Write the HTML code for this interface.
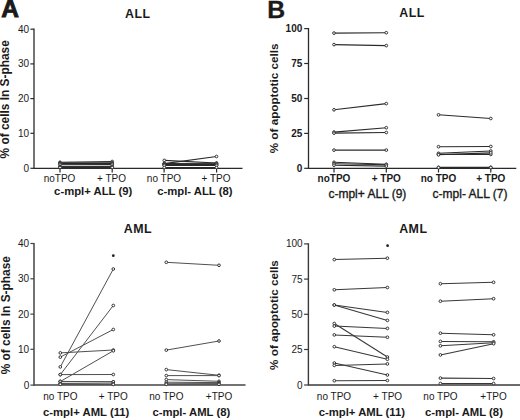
<!DOCTYPE html>
<html><head><meta charset="utf-8"><style>
html,body{margin:0;padding:0;background:#fff;}
body{width:520px;height:420px;overflow:hidden;}
svg{display:block;}
text{font-family:"Liberation Sans", sans-serif;fill:#1a1a1a;}
</style></head><body>
<svg width="520" height="420" viewBox="0 0 520 420">
<rect width="520" height="420" fill="#fff"/>
<line x1="34" y1="28.4" x2="34" y2="168.9" stroke="#2a2a2a" stroke-width="1.3"/>
<line x1="34" y1="168.3" x2="242.5" y2="168.3" stroke="#2a2a2a" stroke-width="1.3"/>
<line x1="30.4" y1="29.2" x2="34" y2="29.2" stroke="#2a2a2a" stroke-width="1.2"/>
<text x="29.1" y="32.7" font-size="10" font-weight="normal" text-anchor="end" >40</text>
<line x1="30.4" y1="63.9" x2="34" y2="63.9" stroke="#2a2a2a" stroke-width="1.2"/>
<text x="29.1" y="67.4" font-size="10" font-weight="normal" text-anchor="end" >30</text>
<line x1="30.4" y1="98.6" x2="34" y2="98.6" stroke="#2a2a2a" stroke-width="1.2"/>
<text x="29.1" y="102.1" font-size="10" font-weight="normal" text-anchor="end" >20</text>
<line x1="30.4" y1="133.3" x2="34" y2="133.3" stroke="#2a2a2a" stroke-width="1.2"/>
<text x="29.1" y="136.8" font-size="10" font-weight="normal" text-anchor="end" >10</text>
<line x1="30.4" y1="168.3" x2="34" y2="168.3" stroke="#2a2a2a" stroke-width="1.2"/>
<text x="29.1" y="171.8" font-size="10" font-weight="normal" text-anchor="end" >0</text>
<line x1="60" y1="168.3" x2="60" y2="172.5" stroke="#2a2a2a" stroke-width="1.2"/>
<line x1="112.2" y1="168.3" x2="112.2" y2="172.5" stroke="#2a2a2a" stroke-width="1.2"/>
<line x1="164.1" y1="168.3" x2="164.1" y2="172.5" stroke="#2a2a2a" stroke-width="1.2"/>
<line x1="216.6" y1="168.3" x2="216.6" y2="172.5" stroke="#2a2a2a" stroke-width="1.2"/>
<text x="59.5" y="182.4" font-size="10" font-weight="normal" text-anchor="middle" >noTPO</text>
<text x="111.5" y="182.4" font-size="10" font-weight="normal" text-anchor="middle" >+ TPO</text>
<text x="164" y="182.4" font-size="10" font-weight="normal" text-anchor="middle" >no TPO</text>
<text x="216" y="182.4" font-size="10" font-weight="normal" text-anchor="middle" >+ TPO</text>
<text x="93.2" y="195.2" font-size="11.3" font-weight="bold" text-anchor="middle" >c-mpl+ ALL (9)</text>
<text x="194.8" y="195.2" font-size="11.3" font-weight="bold" text-anchor="middle" >c-mpl- ALL (8)</text>
<line x1="60" y1="162.3" x2="112.2" y2="161.5" stroke="#2a2a2a" stroke-width="1.1"/>
<line x1="60" y1="163.0" x2="112.2" y2="162.8" stroke="#2a2a2a" stroke-width="1.1"/>
<line x1="60" y1="163.4" x2="112.2" y2="163.5" stroke="#2a2a2a" stroke-width="1.1"/>
<line x1="60" y1="163.9" x2="112.2" y2="164.0" stroke="#2a2a2a" stroke-width="1.1"/>
<line x1="60" y1="164.3" x2="112.2" y2="164.4" stroke="#2a2a2a" stroke-width="1.1"/>
<line x1="60" y1="166.2" x2="112.2" y2="166.2" stroke="#2a2a2a" stroke-width="1.1"/>
<line x1="60" y1="166.7" x2="112.2" y2="166.7" stroke="#2a2a2a" stroke-width="1.1"/>
<line x1="60" y1="167.2" x2="112.2" y2="167.2" stroke="#2a2a2a" stroke-width="1.1"/>
<line x1="60" y1="167.5" x2="112.2" y2="167.5" stroke="#2a2a2a" stroke-width="1.1"/>
<line x1="164.3" y1="160.4" x2="216.5" y2="163.0" stroke="#2a2a2a" stroke-width="1.1"/>
<line x1="164.3" y1="163.6" x2="216.5" y2="156.5" stroke="#2a2a2a" stroke-width="1.1"/>
<line x1="164.3" y1="163.5" x2="216.5" y2="163.3" stroke="#2a2a2a" stroke-width="1.1"/>
<line x1="164.3" y1="164.0" x2="216.5" y2="164.0" stroke="#2a2a2a" stroke-width="1.1"/>
<line x1="164.3" y1="164.5" x2="216.5" y2="164.6" stroke="#2a2a2a" stroke-width="1.1"/>
<line x1="164.3" y1="165.0" x2="216.5" y2="165.2" stroke="#2a2a2a" stroke-width="1.1"/>
<line x1="164.3" y1="165.5" x2="216.5" y2="165.5" stroke="#2a2a2a" stroke-width="1.1"/>
<line x1="164.3" y1="167.5" x2="216.5" y2="167.5" stroke="#2a2a2a" stroke-width="1.1"/>
<circle cx="60" cy="162.3" r="1.35" fill="#fff" stroke="#2a2a2a" stroke-width="0.95"/>
<circle cx="112.2" cy="161.5" r="1.35" fill="#fff" stroke="#2a2a2a" stroke-width="0.95"/>
<circle cx="60" cy="163.0" r="1.35" fill="#fff" stroke="#2a2a2a" stroke-width="0.95"/>
<circle cx="112.2" cy="162.8" r="1.35" fill="#fff" stroke="#2a2a2a" stroke-width="0.95"/>
<circle cx="60" cy="163.4" r="1.35" fill="#fff" stroke="#2a2a2a" stroke-width="0.95"/>
<circle cx="112.2" cy="163.5" r="1.35" fill="#fff" stroke="#2a2a2a" stroke-width="0.95"/>
<circle cx="60" cy="163.9" r="1.35" fill="#fff" stroke="#2a2a2a" stroke-width="0.95"/>
<circle cx="112.2" cy="164.0" r="1.35" fill="#fff" stroke="#2a2a2a" stroke-width="0.95"/>
<circle cx="60" cy="164.3" r="1.35" fill="#fff" stroke="#2a2a2a" stroke-width="0.95"/>
<circle cx="112.2" cy="164.4" r="1.35" fill="#fff" stroke="#2a2a2a" stroke-width="0.95"/>
<circle cx="60" cy="166.2" r="1.35" fill="#fff" stroke="#2a2a2a" stroke-width="0.95"/>
<circle cx="112.2" cy="166.2" r="1.35" fill="#fff" stroke="#2a2a2a" stroke-width="0.95"/>
<circle cx="60" cy="166.7" r="1.35" fill="#fff" stroke="#2a2a2a" stroke-width="0.95"/>
<circle cx="112.2" cy="166.7" r="1.35" fill="#fff" stroke="#2a2a2a" stroke-width="0.95"/>
<circle cx="60" cy="167.2" r="1.35" fill="#fff" stroke="#2a2a2a" stroke-width="0.95"/>
<circle cx="112.2" cy="167.2" r="1.35" fill="#fff" stroke="#2a2a2a" stroke-width="0.95"/>
<circle cx="60" cy="167.5" r="1.35" fill="#fff" stroke="#2a2a2a" stroke-width="0.95"/>
<circle cx="112.2" cy="167.5" r="1.35" fill="#fff" stroke="#2a2a2a" stroke-width="0.95"/>
<circle cx="164.3" cy="160.4" r="1.35" fill="#fff" stroke="#2a2a2a" stroke-width="0.95"/>
<circle cx="216.5" cy="163.0" r="1.35" fill="#fff" stroke="#2a2a2a" stroke-width="0.95"/>
<circle cx="164.3" cy="163.6" r="1.35" fill="#fff" stroke="#2a2a2a" stroke-width="0.95"/>
<circle cx="216.5" cy="156.5" r="1.35" fill="#fff" stroke="#2a2a2a" stroke-width="0.95"/>
<circle cx="164.3" cy="163.5" r="1.35" fill="#fff" stroke="#2a2a2a" stroke-width="0.95"/>
<circle cx="216.5" cy="163.3" r="1.35" fill="#fff" stroke="#2a2a2a" stroke-width="0.95"/>
<circle cx="164.3" cy="164.0" r="1.35" fill="#fff" stroke="#2a2a2a" stroke-width="0.95"/>
<circle cx="216.5" cy="164.0" r="1.35" fill="#fff" stroke="#2a2a2a" stroke-width="0.95"/>
<circle cx="164.3" cy="164.5" r="1.35" fill="#fff" stroke="#2a2a2a" stroke-width="0.95"/>
<circle cx="216.5" cy="164.6" r="1.35" fill="#fff" stroke="#2a2a2a" stroke-width="0.95"/>
<circle cx="164.3" cy="165.0" r="1.35" fill="#fff" stroke="#2a2a2a" stroke-width="0.95"/>
<circle cx="216.5" cy="165.2" r="1.35" fill="#fff" stroke="#2a2a2a" stroke-width="0.95"/>
<circle cx="164.3" cy="165.5" r="1.35" fill="#fff" stroke="#2a2a2a" stroke-width="0.95"/>
<circle cx="216.5" cy="165.5" r="1.35" fill="#fff" stroke="#2a2a2a" stroke-width="0.95"/>
<circle cx="164.3" cy="167.5" r="1.35" fill="#fff" stroke="#2a2a2a" stroke-width="0.95"/>
<circle cx="216.5" cy="167.5" r="1.35" fill="#fff" stroke="#2a2a2a" stroke-width="0.95"/>
<text x="0" y="0" font-size="11.9" font-weight="bold" text-anchor="middle" transform="translate(8.9,99.3) rotate(-90)">% of cells In S-phase</text>
<text x="137.8" y="17.8" font-size="12.4" font-weight="bold" text-anchor="middle" letter-spacing="0.5">ALL</text>
<line x1="308.5" y1="28.0" x2="308.5" y2="168.9" stroke="#2a2a2a" stroke-width="1.3"/>
<line x1="308.5" y1="168.3" x2="516.3" y2="168.3" stroke="#2a2a2a" stroke-width="1.3"/>
<line x1="304.2" y1="28.6" x2="308.5" y2="28.6" stroke="#2a2a2a" stroke-width="1.2"/>
<text x="302.3" y="32.1" font-size="10" font-weight="bold" text-anchor="end" >100</text>
<line x1="304.2" y1="63.5" x2="308.5" y2="63.5" stroke="#2a2a2a" stroke-width="1.2"/>
<text x="302.3" y="67.0" font-size="10" font-weight="bold" text-anchor="end" >75</text>
<line x1="304.2" y1="98.5" x2="308.5" y2="98.5" stroke="#2a2a2a" stroke-width="1.2"/>
<text x="302.3" y="102.0" font-size="10" font-weight="bold" text-anchor="end" >50</text>
<line x1="304.2" y1="133.4" x2="308.5" y2="133.4" stroke="#2a2a2a" stroke-width="1.2"/>
<text x="302.3" y="136.9" font-size="10" font-weight="bold" text-anchor="end" >25</text>
<line x1="304.2" y1="168.3" x2="308.5" y2="168.3" stroke="#2a2a2a" stroke-width="1.2"/>
<text x="302.3" y="171.8" font-size="10" font-weight="bold" text-anchor="end" >0</text>
<line x1="334" y1="168.3" x2="334" y2="172.5" stroke="#2a2a2a" stroke-width="1.2"/>
<line x1="386.3" y1="168.3" x2="386.3" y2="172.5" stroke="#2a2a2a" stroke-width="1.2"/>
<line x1="438.5" y1="168.3" x2="438.5" y2="172.5" stroke="#2a2a2a" stroke-width="1.2"/>
<line x1="490.8" y1="168.3" x2="490.8" y2="172.5" stroke="#2a2a2a" stroke-width="1.2"/>
<text x="334" y="182.2" font-size="10" font-weight="bold" text-anchor="middle" >noTPO</text>
<text x="386.3" y="182.2" font-size="10" font-weight="bold" text-anchor="middle" >+ TPO</text>
<text x="438.5" y="182.2" font-size="10" font-weight="bold" text-anchor="middle" >no TPO</text>
<text x="490.8" y="182.2" font-size="10" font-weight="bold" text-anchor="middle" >+ TPO</text>
<text x="367.4" y="198.4" font-size="12" font-weight="normal" text-anchor="middle" stroke="#1a1a1a" stroke-width="0.35">c-mpl+ ALL (9)</text>
<text x="470" y="198.4" font-size="12" font-weight="normal" text-anchor="middle" stroke="#1a1a1a" stroke-width="0.35">c-mpl- ALL (7)</text>
<line x1="334" y1="33.1" x2="386.3" y2="32.7" stroke="#2a2a2a" stroke-width="1.1"/>
<line x1="334" y1="44.6" x2="386.3" y2="45.6" stroke="#2a2a2a" stroke-width="1.1"/>
<line x1="334" y1="109.8" x2="386.3" y2="103.6" stroke="#2a2a2a" stroke-width="1.1"/>
<line x1="334" y1="132.1" x2="386.3" y2="127.7" stroke="#2a2a2a" stroke-width="1.1"/>
<line x1="334" y1="133.1" x2="386.3" y2="132.5" stroke="#2a2a2a" stroke-width="1.1"/>
<line x1="334" y1="150.1" x2="386.3" y2="150.1" stroke="#2a2a2a" stroke-width="1.1"/>
<line x1="334" y1="162.3" x2="386.3" y2="164.3" stroke="#2a2a2a" stroke-width="1.1"/>
<line x1="334" y1="163.8" x2="386.3" y2="164.7" stroke="#2a2a2a" stroke-width="1.1"/>
<line x1="334" y1="165.2" x2="386.3" y2="166.1" stroke="#2a2a2a" stroke-width="1.1"/>
<line x1="438.5" y1="114.8" x2="490.8" y2="118.5" stroke="#2a2a2a" stroke-width="1.1"/>
<line x1="438.5" y1="146.7" x2="490.8" y2="146.5" stroke="#2a2a2a" stroke-width="1.1"/>
<line x1="438.5" y1="153.3" x2="490.8" y2="151.0" stroke="#2a2a2a" stroke-width="1.1"/>
<line x1="438.5" y1="154.4" x2="490.8" y2="154.4" stroke="#2a2a2a" stroke-width="1.1"/>
<line x1="438.5" y1="154.8" x2="490.8" y2="152.9" stroke="#2a2a2a" stroke-width="1.1"/>
<line x1="438.5" y1="167.3" x2="490.8" y2="167.3" stroke="#2a2a2a" stroke-width="1.1"/>
<line x1="438.5" y1="167.6" x2="490.8" y2="167.6" stroke="#2a2a2a" stroke-width="1.1"/>
<circle cx="334" cy="33.1" r="1.35" fill="#fff" stroke="#2a2a2a" stroke-width="0.95"/>
<circle cx="386.3" cy="32.7" r="1.35" fill="#fff" stroke="#2a2a2a" stroke-width="0.95"/>
<circle cx="334" cy="44.6" r="1.35" fill="#fff" stroke="#2a2a2a" stroke-width="0.95"/>
<circle cx="386.3" cy="45.6" r="1.35" fill="#fff" stroke="#2a2a2a" stroke-width="0.95"/>
<circle cx="334" cy="109.8" r="1.35" fill="#fff" stroke="#2a2a2a" stroke-width="0.95"/>
<circle cx="386.3" cy="103.6" r="1.35" fill="#fff" stroke="#2a2a2a" stroke-width="0.95"/>
<circle cx="334" cy="132.1" r="1.35" fill="#fff" stroke="#2a2a2a" stroke-width="0.95"/>
<circle cx="386.3" cy="127.7" r="1.35" fill="#fff" stroke="#2a2a2a" stroke-width="0.95"/>
<circle cx="334" cy="133.1" r="1.35" fill="#fff" stroke="#2a2a2a" stroke-width="0.95"/>
<circle cx="386.3" cy="132.5" r="1.35" fill="#fff" stroke="#2a2a2a" stroke-width="0.95"/>
<circle cx="334" cy="150.1" r="1.35" fill="#fff" stroke="#2a2a2a" stroke-width="0.95"/>
<circle cx="386.3" cy="150.1" r="1.35" fill="#fff" stroke="#2a2a2a" stroke-width="0.95"/>
<circle cx="334" cy="162.3" r="1.35" fill="#fff" stroke="#2a2a2a" stroke-width="0.95"/>
<circle cx="386.3" cy="164.3" r="1.35" fill="#fff" stroke="#2a2a2a" stroke-width="0.95"/>
<circle cx="334" cy="163.8" r="1.35" fill="#fff" stroke="#2a2a2a" stroke-width="0.95"/>
<circle cx="386.3" cy="164.7" r="1.35" fill="#fff" stroke="#2a2a2a" stroke-width="0.95"/>
<circle cx="334" cy="165.2" r="1.35" fill="#fff" stroke="#2a2a2a" stroke-width="0.95"/>
<circle cx="386.3" cy="166.1" r="1.35" fill="#fff" stroke="#2a2a2a" stroke-width="0.95"/>
<circle cx="438.5" cy="114.8" r="1.35" fill="#fff" stroke="#2a2a2a" stroke-width="0.95"/>
<circle cx="490.8" cy="118.5" r="1.35" fill="#fff" stroke="#2a2a2a" stroke-width="0.95"/>
<circle cx="438.5" cy="146.7" r="1.35" fill="#fff" stroke="#2a2a2a" stroke-width="0.95"/>
<circle cx="490.8" cy="146.5" r="1.35" fill="#fff" stroke="#2a2a2a" stroke-width="0.95"/>
<circle cx="438.5" cy="153.3" r="1.35" fill="#fff" stroke="#2a2a2a" stroke-width="0.95"/>
<circle cx="490.8" cy="151.0" r="1.35" fill="#fff" stroke="#2a2a2a" stroke-width="0.95"/>
<circle cx="438.5" cy="154.4" r="1.35" fill="#fff" stroke="#2a2a2a" stroke-width="0.95"/>
<circle cx="490.8" cy="154.4" r="1.35" fill="#fff" stroke="#2a2a2a" stroke-width="0.95"/>
<circle cx="438.5" cy="154.8" r="1.35" fill="#fff" stroke="#2a2a2a" stroke-width="0.95"/>
<circle cx="490.8" cy="152.9" r="1.35" fill="#fff" stroke="#2a2a2a" stroke-width="0.95"/>
<circle cx="438.5" cy="167.3" r="1.35" fill="#fff" stroke="#2a2a2a" stroke-width="0.95"/>
<circle cx="490.8" cy="167.3" r="1.35" fill="#fff" stroke="#2a2a2a" stroke-width="0.95"/>
<circle cx="438.5" cy="167.6" r="1.35" fill="#fff" stroke="#2a2a2a" stroke-width="0.95"/>
<circle cx="490.8" cy="167.6" r="1.35" fill="#fff" stroke="#2a2a2a" stroke-width="0.95"/>
<text x="0" y="0" font-size="11.7" font-weight="bold" text-anchor="middle" transform="translate(278.1,98.4) rotate(-90)">% of apoptotic cells</text>
<text x="412.0" y="16.9" font-size="12.4" font-weight="bold" text-anchor="middle" letter-spacing="0.5">ALL</text>
<line x1="34.0" y1="242.9" x2="34.0" y2="385.70000000000005" stroke="#444" stroke-width="1.5"/>
<line x1="34.0" y1="385.1" x2="245.5" y2="385.1" stroke="#444" stroke-width="1.5"/>
<line x1="30.4" y1="243.5" x2="34.0" y2="243.5" stroke="#444" stroke-width="1.2"/>
<text x="29.2" y="247.0" font-size="10" font-weight="normal" text-anchor="end" >40</text>
<line x1="30.4" y1="278.8" x2="34.0" y2="278.8" stroke="#444" stroke-width="1.2"/>
<text x="29.2" y="282.3" font-size="10" font-weight="normal" text-anchor="end" >30</text>
<line x1="30.4" y1="314.1" x2="34.0" y2="314.1" stroke="#444" stroke-width="1.2"/>
<text x="29.2" y="317.6" font-size="10" font-weight="normal" text-anchor="end" >20</text>
<line x1="30.4" y1="349.3" x2="34.0" y2="349.3" stroke="#444" stroke-width="1.2"/>
<text x="29.2" y="352.8" font-size="10" font-weight="normal" text-anchor="end" >10</text>
<line x1="30.4" y1="385.1" x2="34.0" y2="385.1" stroke="#444" stroke-width="1.2"/>
<text x="29.2" y="388.6" font-size="10" font-weight="normal" text-anchor="end" >0</text>
<text x="60.3" y="399.5" font-size="10" font-weight="normal" text-anchor="middle" >no TPO</text>
<text x="113.3" y="399.5" font-size="10" font-weight="normal" text-anchor="middle" >+ TPO</text>
<text x="166.3" y="399.5" font-size="10" font-weight="normal" text-anchor="middle" >no TPO</text>
<text x="219" y="399.5" font-size="10" font-weight="normal" text-anchor="middle" >+TPO</text>
<text x="86.2" y="416.2" font-size="11.3" font-weight="bold" text-anchor="middle" >c-mpl+ AML (11)</text>
<text x="191.3" y="416.2" font-size="11.3" font-weight="bold" text-anchor="middle" >c-mpl- AML (8)</text>
<line x1="60.3" y1="352.9" x2="113.3" y2="350.0" stroke="#505050" stroke-width="1.0"/>
<line x1="60.3" y1="357.1" x2="113.3" y2="329.5" stroke="#505050" stroke-width="1.0"/>
<line x1="60.3" y1="366.9" x2="113.3" y2="269.0" stroke="#505050" stroke-width="1.0"/>
<line x1="60.3" y1="374.6" x2="113.3" y2="374.5" stroke="#505050" stroke-width="1.0"/>
<line x1="60.3" y1="374.6" x2="113.3" y2="305.5" stroke="#505050" stroke-width="1.0"/>
<line x1="60.3" y1="381.5" x2="113.3" y2="350.8" stroke="#505050" stroke-width="1.0"/>
<line x1="60.3" y1="381.4" x2="113.3" y2="381.8" stroke="#505050" stroke-width="1.0"/>
<line x1="60.3" y1="381.7" x2="113.3" y2="381.9" stroke="#505050" stroke-width="1.0"/>
<line x1="60.3" y1="383.6" x2="113.3" y2="384.1" stroke="#505050" stroke-width="1.0"/>
<line x1="60.3" y1="383.9" x2="113.3" y2="384.2" stroke="#505050" stroke-width="1.0"/>
<line x1="60.3" y1="384.3" x2="113.3" y2="384.4" stroke="#505050" stroke-width="1.0"/>
<line x1="166.3" y1="262.3" x2="219" y2="265.3" stroke="#505050" stroke-width="1.0"/>
<line x1="166.3" y1="350.1" x2="219" y2="341.0" stroke="#505050" stroke-width="1.0"/>
<line x1="166.3" y1="369.6" x2="219" y2="375.3" stroke="#505050" stroke-width="1.0"/>
<line x1="166.3" y1="375.6" x2="219" y2="375.6" stroke="#505050" stroke-width="1.0"/>
<line x1="166.3" y1="379.6" x2="219" y2="381.3" stroke="#505050" stroke-width="1.0"/>
<line x1="166.3" y1="382.2" x2="219" y2="382.6" stroke="#505050" stroke-width="1.0"/>
<line x1="166.3" y1="383.8" x2="219" y2="383.6" stroke="#505050" stroke-width="1.0"/>
<line x1="166.3" y1="384.3" x2="219" y2="384.3" stroke="#505050" stroke-width="1.0"/>
<circle cx="60.3" cy="352.9" r="1.35" fill="#fff" stroke="#2a2a2a" stroke-width="0.95"/>
<circle cx="113.3" cy="350.0" r="1.35" fill="#fff" stroke="#2a2a2a" stroke-width="0.95"/>
<circle cx="60.3" cy="357.1" r="1.35" fill="#fff" stroke="#2a2a2a" stroke-width="0.95"/>
<circle cx="113.3" cy="329.5" r="1.35" fill="#fff" stroke="#2a2a2a" stroke-width="0.95"/>
<circle cx="60.3" cy="366.9" r="1.35" fill="#fff" stroke="#2a2a2a" stroke-width="0.95"/>
<circle cx="113.3" cy="269.0" r="1.35" fill="#fff" stroke="#2a2a2a" stroke-width="0.95"/>
<circle cx="60.3" cy="374.6" r="1.35" fill="#fff" stroke="#2a2a2a" stroke-width="0.95"/>
<circle cx="113.3" cy="374.5" r="1.35" fill="#fff" stroke="#2a2a2a" stroke-width="0.95"/>
<circle cx="60.3" cy="374.6" r="1.35" fill="#fff" stroke="#2a2a2a" stroke-width="0.95"/>
<circle cx="113.3" cy="305.5" r="1.35" fill="#fff" stroke="#2a2a2a" stroke-width="0.95"/>
<circle cx="60.3" cy="381.5" r="1.35" fill="#fff" stroke="#2a2a2a" stroke-width="0.95"/>
<circle cx="113.3" cy="350.8" r="1.35" fill="#fff" stroke="#2a2a2a" stroke-width="0.95"/>
<circle cx="60.3" cy="381.4" r="1.35" fill="#fff" stroke="#2a2a2a" stroke-width="0.95"/>
<circle cx="113.3" cy="381.8" r="1.35" fill="#fff" stroke="#2a2a2a" stroke-width="0.95"/>
<circle cx="60.3" cy="381.7" r="1.35" fill="#fff" stroke="#2a2a2a" stroke-width="0.95"/>
<circle cx="113.3" cy="381.9" r="1.35" fill="#fff" stroke="#2a2a2a" stroke-width="0.95"/>
<circle cx="60.3" cy="383.6" r="1.35" fill="#fff" stroke="#2a2a2a" stroke-width="0.95"/>
<circle cx="113.3" cy="384.1" r="1.35" fill="#fff" stroke="#2a2a2a" stroke-width="0.95"/>
<circle cx="60.3" cy="383.9" r="1.35" fill="#fff" stroke="#2a2a2a" stroke-width="0.95"/>
<circle cx="113.3" cy="384.2" r="1.35" fill="#fff" stroke="#2a2a2a" stroke-width="0.95"/>
<circle cx="60.3" cy="384.3" r="1.35" fill="#fff" stroke="#2a2a2a" stroke-width="0.95"/>
<circle cx="113.3" cy="384.4" r="1.35" fill="#fff" stroke="#2a2a2a" stroke-width="0.95"/>
<circle cx="166.3" cy="262.3" r="1.35" fill="#fff" stroke="#2a2a2a" stroke-width="0.95"/>
<circle cx="219" cy="265.3" r="1.35" fill="#fff" stroke="#2a2a2a" stroke-width="0.95"/>
<circle cx="166.3" cy="350.1" r="1.35" fill="#fff" stroke="#2a2a2a" stroke-width="0.95"/>
<circle cx="219" cy="341.0" r="1.35" fill="#fff" stroke="#2a2a2a" stroke-width="0.95"/>
<circle cx="166.3" cy="369.6" r="1.35" fill="#fff" stroke="#2a2a2a" stroke-width="0.95"/>
<circle cx="219" cy="375.3" r="1.35" fill="#fff" stroke="#2a2a2a" stroke-width="0.95"/>
<circle cx="166.3" cy="375.6" r="1.35" fill="#fff" stroke="#2a2a2a" stroke-width="0.95"/>
<circle cx="219" cy="375.6" r="1.35" fill="#fff" stroke="#2a2a2a" stroke-width="0.95"/>
<circle cx="166.3" cy="379.6" r="1.35" fill="#fff" stroke="#2a2a2a" stroke-width="0.95"/>
<circle cx="219" cy="381.3" r="1.35" fill="#fff" stroke="#2a2a2a" stroke-width="0.95"/>
<circle cx="166.3" cy="382.2" r="1.35" fill="#fff" stroke="#2a2a2a" stroke-width="0.95"/>
<circle cx="219" cy="382.6" r="1.35" fill="#fff" stroke="#2a2a2a" stroke-width="0.95"/>
<circle cx="166.3" cy="383.8" r="1.35" fill="#fff" stroke="#2a2a2a" stroke-width="0.95"/>
<circle cx="219" cy="383.6" r="1.35" fill="#fff" stroke="#2a2a2a" stroke-width="0.95"/>
<circle cx="166.3" cy="384.3" r="1.35" fill="#fff" stroke="#2a2a2a" stroke-width="0.95"/>
<circle cx="219" cy="384.3" r="1.35" fill="#fff" stroke="#2a2a2a" stroke-width="0.95"/>
<text x="0" y="0" font-size="11.9" font-weight="bold" text-anchor="middle" transform="translate(9.9,315.2) rotate(-90)">% of cells In S-phase</text>
<text x="138.0" y="233.0" font-size="12.4" font-weight="bold" text-anchor="middle" letter-spacing="0.5">AML</text>
<circle cx="113.3" cy="255.7" r="1.4" fill="#222"/>
<line x1="308.4" y1="243.3" x2="308.4" y2="385.6" stroke="#3a3a3a" stroke-width="1.4"/>
<line x1="308.4" y1="385.0" x2="520" y2="385.0" stroke="#3a3a3a" stroke-width="1.4"/>
<line x1="304.09999999999997" y1="243.9" x2="308.4" y2="243.9" stroke="#3a3a3a" stroke-width="1.2"/>
<text x="302.59999999999997" y="247.4" font-size="10" font-weight="normal" text-anchor="end" >100</text>
<line x1="304.09999999999997" y1="279.1" x2="308.4" y2="279.1" stroke="#3a3a3a" stroke-width="1.2"/>
<text x="302.59999999999997" y="282.6" font-size="10" font-weight="normal" text-anchor="end" >75</text>
<line x1="304.09999999999997" y1="314.3" x2="308.4" y2="314.3" stroke="#3a3a3a" stroke-width="1.2"/>
<text x="302.59999999999997" y="317.8" font-size="10" font-weight="normal" text-anchor="end" >50</text>
<line x1="304.09999999999997" y1="349.5" x2="308.4" y2="349.5" stroke="#3a3a3a" stroke-width="1.2"/>
<text x="302.59999999999997" y="353.0" font-size="10" font-weight="normal" text-anchor="end" >25</text>
<line x1="304.09999999999997" y1="385.0" x2="308.4" y2="385.0" stroke="#3a3a3a" stroke-width="1.2"/>
<text x="302.59999999999997" y="388.5" font-size="10" font-weight="normal" text-anchor="end" >0</text>
<text x="334" y="399.6" font-size="10" font-weight="normal" text-anchor="middle" >no TPO</text>
<text x="387.6" y="399.6" font-size="10" font-weight="normal" text-anchor="middle" >+ TPO</text>
<text x="440.5" y="399.6" font-size="10" font-weight="normal" text-anchor="middle" >no TPO</text>
<text x="493.5" y="399.6" font-size="10" font-weight="normal" text-anchor="middle" >+TPO</text>
<text x="361.9" y="416.4" font-size="11.3" font-weight="bold" text-anchor="middle" >c-mpl+ AML (11)</text>
<text x="464" y="416.4" font-size="11.3" font-weight="bold" text-anchor="middle" >c-mpl- AML (8)</text>
<line x1="334.3" y1="259.6" x2="387.4" y2="258.2" stroke="#383838" stroke-width="1.05"/>
<line x1="334.3" y1="289.8" x2="387.4" y2="287.5" stroke="#383838" stroke-width="1.05"/>
<line x1="334.3" y1="305.0" x2="387.4" y2="312.4" stroke="#383838" stroke-width="1.05"/>
<line x1="334.3" y1="305.0" x2="387.4" y2="320.4" stroke="#383838" stroke-width="1.05"/>
<line x1="334.3" y1="323.5" x2="387.4" y2="357.0" stroke="#383838" stroke-width="1.05"/>
<line x1="334.3" y1="326.1" x2="387.4" y2="328.4" stroke="#383838" stroke-width="1.05"/>
<line x1="334.3" y1="334.9" x2="387.4" y2="337.3" stroke="#383838" stroke-width="1.05"/>
<line x1="334.3" y1="346.7" x2="387.4" y2="359.3" stroke="#383838" stroke-width="1.05"/>
<line x1="334.3" y1="363.0" x2="387.4" y2="375.0" stroke="#383838" stroke-width="1.05"/>
<line x1="334.3" y1="365.4" x2="387.4" y2="363.9" stroke="#383838" stroke-width="1.05"/>
<line x1="334.3" y1="380.7" x2="387.4" y2="380.5" stroke="#383838" stroke-width="1.05"/>
<line x1="440.4" y1="283.7" x2="493.6" y2="282.3" stroke="#383838" stroke-width="1.05"/>
<line x1="440.4" y1="301.2" x2="493.6" y2="298.7" stroke="#383838" stroke-width="1.05"/>
<line x1="440.4" y1="333.2" x2="493.6" y2="334.8" stroke="#383838" stroke-width="1.05"/>
<line x1="440.4" y1="341.4" x2="493.6" y2="341.8" stroke="#383838" stroke-width="1.05"/>
<line x1="440.4" y1="345.8" x2="493.6" y2="342.8" stroke="#383838" stroke-width="1.05"/>
<line x1="440.4" y1="354.9" x2="493.6" y2="343.7" stroke="#383838" stroke-width="1.05"/>
<line x1="440.4" y1="378.1" x2="493.6" y2="378.5" stroke="#383838" stroke-width="1.05"/>
<line x1="440.4" y1="383.5" x2="493.6" y2="383.5" stroke="#383838" stroke-width="1.05"/>
<circle cx="334.3" cy="259.6" r="1.35" fill="#fff" stroke="#2a2a2a" stroke-width="0.95"/>
<circle cx="387.4" cy="258.2" r="1.35" fill="#fff" stroke="#2a2a2a" stroke-width="0.95"/>
<circle cx="334.3" cy="289.8" r="1.35" fill="#fff" stroke="#2a2a2a" stroke-width="0.95"/>
<circle cx="387.4" cy="287.5" r="1.35" fill="#fff" stroke="#2a2a2a" stroke-width="0.95"/>
<circle cx="334.3" cy="305.0" r="1.35" fill="#fff" stroke="#2a2a2a" stroke-width="0.95"/>
<circle cx="387.4" cy="312.4" r="1.35" fill="#fff" stroke="#2a2a2a" stroke-width="0.95"/>
<circle cx="334.3" cy="305.0" r="1.35" fill="#fff" stroke="#2a2a2a" stroke-width="0.95"/>
<circle cx="387.4" cy="320.4" r="1.35" fill="#fff" stroke="#2a2a2a" stroke-width="0.95"/>
<circle cx="334.3" cy="323.5" r="1.35" fill="#fff" stroke="#2a2a2a" stroke-width="0.95"/>
<circle cx="387.4" cy="357.0" r="1.35" fill="#fff" stroke="#2a2a2a" stroke-width="0.95"/>
<circle cx="334.3" cy="326.1" r="1.35" fill="#fff" stroke="#2a2a2a" stroke-width="0.95"/>
<circle cx="387.4" cy="328.4" r="1.35" fill="#fff" stroke="#2a2a2a" stroke-width="0.95"/>
<circle cx="334.3" cy="334.9" r="1.35" fill="#fff" stroke="#2a2a2a" stroke-width="0.95"/>
<circle cx="387.4" cy="337.3" r="1.35" fill="#fff" stroke="#2a2a2a" stroke-width="0.95"/>
<circle cx="334.3" cy="346.7" r="1.35" fill="#fff" stroke="#2a2a2a" stroke-width="0.95"/>
<circle cx="387.4" cy="359.3" r="1.35" fill="#fff" stroke="#2a2a2a" stroke-width="0.95"/>
<circle cx="334.3" cy="363.0" r="1.35" fill="#fff" stroke="#2a2a2a" stroke-width="0.95"/>
<circle cx="387.4" cy="375.0" r="1.35" fill="#fff" stroke="#2a2a2a" stroke-width="0.95"/>
<circle cx="334.3" cy="365.4" r="1.35" fill="#fff" stroke="#2a2a2a" stroke-width="0.95"/>
<circle cx="387.4" cy="363.9" r="1.35" fill="#fff" stroke="#2a2a2a" stroke-width="0.95"/>
<circle cx="334.3" cy="380.7" r="1.35" fill="#fff" stroke="#2a2a2a" stroke-width="0.95"/>
<circle cx="387.4" cy="380.5" r="1.35" fill="#fff" stroke="#2a2a2a" stroke-width="0.95"/>
<circle cx="440.4" cy="283.7" r="1.35" fill="#fff" stroke="#2a2a2a" stroke-width="0.95"/>
<circle cx="493.6" cy="282.3" r="1.35" fill="#fff" stroke="#2a2a2a" stroke-width="0.95"/>
<circle cx="440.4" cy="301.2" r="1.35" fill="#fff" stroke="#2a2a2a" stroke-width="0.95"/>
<circle cx="493.6" cy="298.7" r="1.35" fill="#fff" stroke="#2a2a2a" stroke-width="0.95"/>
<circle cx="440.4" cy="333.2" r="1.35" fill="#fff" stroke="#2a2a2a" stroke-width="0.95"/>
<circle cx="493.6" cy="334.8" r="1.35" fill="#fff" stroke="#2a2a2a" stroke-width="0.95"/>
<circle cx="440.4" cy="341.4" r="1.35" fill="#fff" stroke="#2a2a2a" stroke-width="0.95"/>
<circle cx="493.6" cy="341.8" r="1.35" fill="#fff" stroke="#2a2a2a" stroke-width="0.95"/>
<circle cx="440.4" cy="345.8" r="1.35" fill="#fff" stroke="#2a2a2a" stroke-width="0.95"/>
<circle cx="493.6" cy="342.8" r="1.35" fill="#fff" stroke="#2a2a2a" stroke-width="0.95"/>
<circle cx="440.4" cy="354.9" r="1.35" fill="#fff" stroke="#2a2a2a" stroke-width="0.95"/>
<circle cx="493.6" cy="343.7" r="1.35" fill="#fff" stroke="#2a2a2a" stroke-width="0.95"/>
<circle cx="440.4" cy="378.1" r="1.35" fill="#fff" stroke="#2a2a2a" stroke-width="0.95"/>
<circle cx="493.6" cy="378.5" r="1.35" fill="#fff" stroke="#2a2a2a" stroke-width="0.95"/>
<circle cx="440.4" cy="383.5" r="1.35" fill="#fff" stroke="#2a2a2a" stroke-width="0.95"/>
<circle cx="493.6" cy="383.5" r="1.35" fill="#fff" stroke="#2a2a2a" stroke-width="0.95"/>
<text x="0" y="0" font-size="11.7" font-weight="bold" text-anchor="middle" transform="translate(278.4,315.0) rotate(-90)">% of apoptotic cells</text>
<text x="413.3" y="233.2" font-size="12.4" font-weight="bold" text-anchor="middle" letter-spacing="0.5">AML</text>
<circle cx="387.6" cy="245.7" r="1.4" fill="#222"/>
<text x="1.2" y="16.8" font-size="24.5" font-weight="bold" text-anchor="start" stroke="#1a1a1a" stroke-width="0.9">A</text>
<text x="267.3" y="17.9" font-size="24.8" font-weight="bold" text-anchor="start" stroke="#1a1a1a" stroke-width="0.3">B</text>
</svg>
</body></html>
